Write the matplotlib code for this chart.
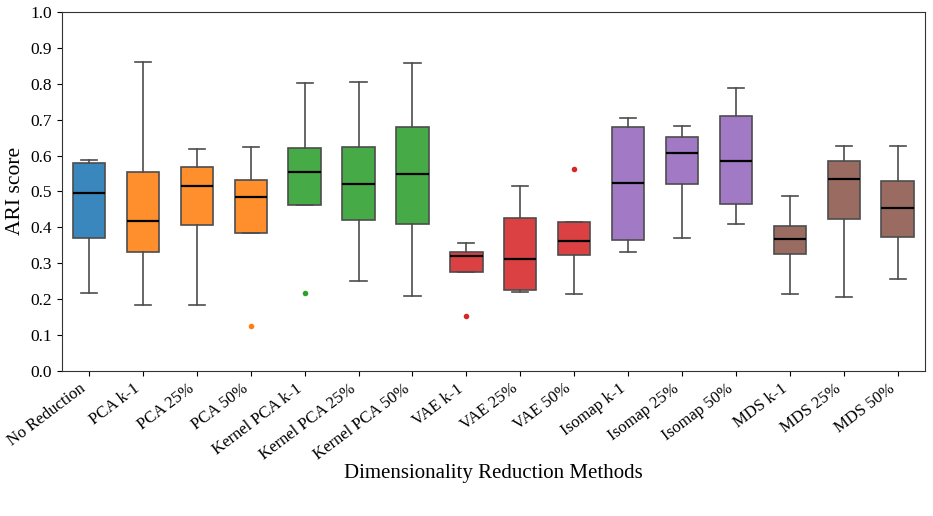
import numpy as np
import matplotlib.pyplot as plt
from matplotlib.colors import to_rgba

plt.rcParams['font.family'] = ['Liberation Serif', 'DejaVu Serif']

methods = ['No Reduction', 'PCA k-1', 'PCA 25%', 'PCA 50%',
           'Kernel PCA k-1', 'Kernel PCA 25%', 'Kernel PCA 50%',
           'VAE k-1', 'VAE 25%', 'VAE 50%',
           'Isomap k-1', 'Isomap 25%', 'Isomap 50%',
           'MDS k-1', 'MDS 25%', 'MDS 50%']

# box statistics
whislo = [0.217, 0.185, 0.185, 0.385, 0.463, 0.250, 0.210, 0.275, 0.219, 0.215, 0.332, 0.369, 0.409, 0.215, 0.207, 0.255]
q1     = [0.369, 0.332, 0.406, 0.385, 0.463, 0.421, 0.409, 0.275, 0.226, 0.323, 0.365, 0.520, 0.464, 0.325, 0.423, 0.374]
med    = [0.497, 0.417, 0.516, 0.485, 0.553, 0.520, 0.548, 0.320, 0.313, 0.362, 0.524, 0.606, 0.584, 0.368, 0.534, 0.454]
q3     = [0.578, 0.554, 0.568, 0.531, 0.622, 0.624, 0.679, 0.330, 0.427, 0.415, 0.680, 0.652, 0.710, 0.403, 0.585, 0.528]
whishi = [0.587, 0.860, 0.618, 0.625, 0.801, 0.806, 0.857, 0.357, 0.515, 0.415, 0.704, 0.681, 0.788, 0.488, 0.626, 0.626]
fliers = [[], [], [], [0.125], [0.217], [], [], [0.152], [], [0.562], [], [], [], [], [], []]

groups = [0, 1, 1, 1, 2, 2, 2, 3, 3, 3, 4, 4, 4, 5, 5, 5]
palette = ['tab:blue', 'tab:orange', 'tab:green', 'tab:red', 'tab:purple', 'tab:brown']

stats = []
for i in range(len(methods)):
    stats.append(dict(label=methods[i], whislo=whislo[i], q1=q1[i], med=med[i],
                      q3=q3[i], whishi=whishi[i], fliers=fliers[i]))

fig, ax = plt.subplots(figsize=(9.33, 5.16), dpi=100)
fig.subplots_adjust(left=0.0665, right=0.991, top=0.977, bottom=0.281)

bp = ax.bxp(stats, positions=np.arange(len(methods)), widths=0.6, patch_artist=True,
            boxprops=dict(edgecolor='#4d4d4d', linewidth=1.2),
            whiskerprops=dict(color='#4d4d4d', linewidth=1.2),
            capprops=dict(color='#4d4d4d', linewidth=1.2),
            medianprops=dict(color='black', linewidth=1.6))

for i, box in enumerate(bp['boxes']):
    box.set_facecolor(to_rgba(palette[groups[i]], 0.88))
for i, fl in enumerate(bp['fliers']):
    fl.set_marker('o')
    fl.set_markersize(4)
    fl.set_markerfacecolor(palette[groups[i]])
    fl.set_markeredgecolor('none')

ax.set_xlim(-0.5, len(methods) - 0.5)
ax.set_ylim(0, 1.0)
ax.set_yticks(np.arange(0, 1.01, 0.1))
ax.yaxis.set_major_formatter(plt.FormatStrFormatter('%.1f'))
ax.set_xticks(np.arange(len(methods)))
ax.set_xticklabels(methods, rotation=37, ha='right', fontsize=12)
ax.tick_params(axis='y', labelsize=12.5)
ax.set_ylabel('ARI score', fontsize=15.5)
ax.set_xlabel('Dimensionality Reduction Methods', fontsize=15, labelpad=1)

for s in ax.spines.values():
    s.set_color('#333333')

fig.savefig('out.png', dpi=100)
